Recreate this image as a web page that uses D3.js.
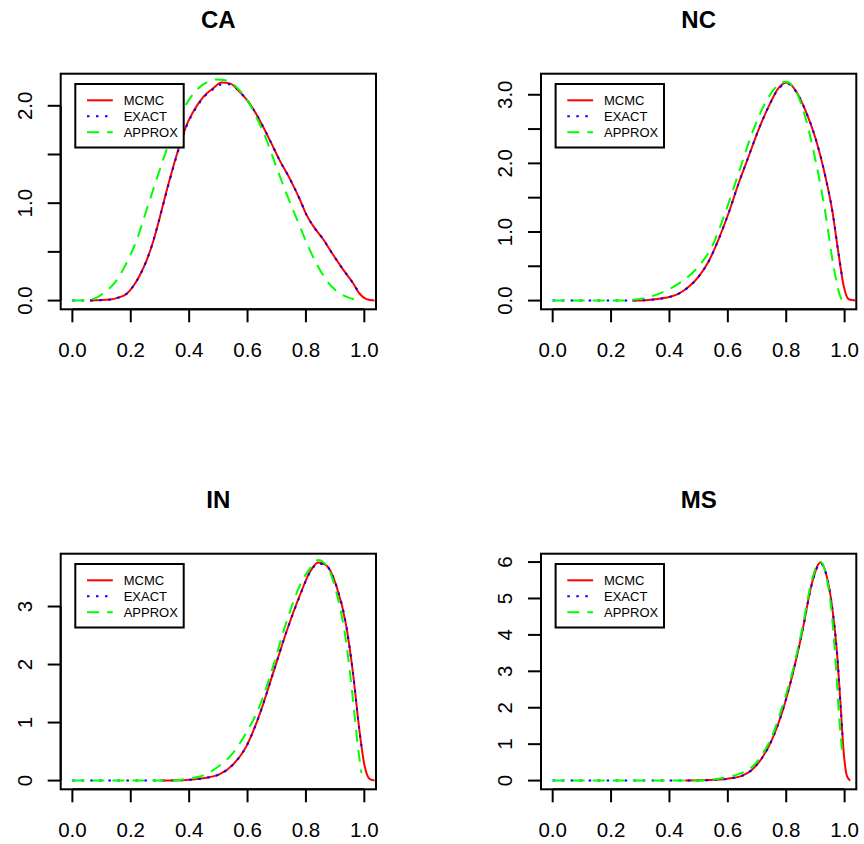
<!DOCTYPE html>
<html>
<head>
<meta charset="utf-8">
<script src="https://cdn.jsdelivr.net/npm/d3@7"></script>
<style>
  body { margin: 0; background: #fff; }
  svg text { font-family: "Liberation Sans", Arial, sans-serif; fill: #000; }
</style>
</head>
<body>
<svg id="chart" width="864" height="844"></svg>
<script>
// ---- data ----
const states = ["CA", "NC", "IN", "MS"];
const seriesNames = ["MCMC", "EXACT", "APPROX"];
const xTicks = [0, 0.2, 0.4, 0.6, 0.8, 1.0];

// CA
const caMcmc = [[0.06,0],[0.13,0.01],[0.157,0.03],[0.186,0.07],[0.209,0.15],[0.231,0.26],[0.254,0.41],[0.277,0.61],[0.3,0.86],[0.323,1.13],[0.345,1.37],[0.368,1.6],[0.391,1.8],[0.42,1.97],[0.448,2.09],[0.482,2.18],[0.511,2.24],[0.539,2.23],[0.574,2.14],[0.608,2.02],[0.642,1.85],[0.676,1.65],[0.71,1.44],[0.745,1.25],[0.779,1.04],[0.802,0.88],[0.824,0.77],[0.859,0.63],[0.893,0.47],[0.927,0.32],[0.961,0.18],[0.984,0.07],[1.007,0.015],[1.035,0]];
const caExact = [[0,0],[0.06,0],[0.13,0.01],[0.157,0.03],[0.186,0.07],[0.209,0.15],[0.231,0.26],[0.254,0.41],[0.277,0.61],[0.3,0.86],[0.323,1.12],[0.345,1.36],[0.368,1.59],[0.391,1.79],[0.42,1.96],[0.448,2.08],[0.482,2.17],[0.511,2.22],[0.539,2.22],[0.574,2.14],[0.608,2.02],[0.642,1.85],[0.676,1.65],[0.71,1.44],[0.745,1.25],[0.779,1.04],[0.802,0.88],[0.824,0.77],[0.859,0.63],[0.893,0.47],[0.927,0.32],[0.961,0.18],[0.984,0.07]];
const caApprox = [[0,0],[0.049,0.003],[0.083,0.03],[0.117,0.1],[0.152,0.21],[0.186,0.39],[0.22,0.62],[0.254,0.93],[0.288,1.24],[0.323,1.55],[0.357,1.8],[0.391,2.02],[0.425,2.16],[0.46,2.24],[0.494,2.27],[0.528,2.26],[0.562,2.19],[0.596,2.07],[0.631,1.88],[0.665,1.65],[0.699,1.37],[0.733,1.1],[0.767,0.85],[0.8,0.61],[0.836,0.38],[0.87,0.21],[0.9,0.11],[0.938,0.04],[0.978,0.005],[0.99,0]];

// NC
const ncMcmc = [[0.272,0],[0.329,0.01],[0.386,0.04],[0.432,0.1],[0.466,0.2],[0.5,0.35],[0.534,0.57],[0.568,0.89],[0.603,1.28],[0.637,1.71],[0.671,2.1],[0.705,2.49],[0.74,2.83],[0.774,3.1],[0.803,3.18],[0.831,3.07],[0.865,2.78],[0.9,2.37],[0.934,1.81],[0.957,1.33],[0.979,0.69],[0.997,0.21],[1.014,0.02],[1.037,0]];
const ncExact = [[0,0],[0.272,0],[0.329,0.01],[0.386,0.04],[0.432,0.1],[0.466,0.2],[0.5,0.35],[0.534,0.57],[0.568,0.89],[0.603,1.28],[0.637,1.71],[0.671,2.1],[0.705,2.49],[0.74,2.83],[0.774,3.09],[0.803,3.16],[0.831,3.06],[0.865,2.78],[0.9,2.37],[0.934,1.81],[0.957,1.33],[0.979,0.69],[0.993,0.3]];
const ncApprox = [[0,0],[0.25,0],[0.272,0.01],[0.329,0.05],[0.386,0.14],[0.443,0.28],[0.5,0.5],[0.546,0.79],[0.591,1.28],[0.637,1.86],[0.683,2.44],[0.728,2.88],[0.774,3.15],[0.799,3.19],[0.831,3.07],[0.865,2.68],[0.9,2.05],[0.934,1.28],[0.962,0.5],[0.985,0.06],[0.993,0]];

// IN
const inMcmc = [[0.3,0],[0.391,0.01],[0.448,0.04],[0.505,0.11],[0.551,0.28],[0.596,0.59],[0.642,1.15],[0.688,1.86],[0.733,2.56],[0.779,3.19],[0.813,3.59],[0.842,3.76],[0.87,3.71],[0.904,3.36],[0.938,2.67],[0.961,1.86],[0.984,0.83],[1.001,0.25],[1.018,0.03],[1.035,0]];
const inExact = [[0,0],[0.3,0],[0.391,0.01],[0.448,0.04],[0.505,0.11],[0.551,0.28],[0.596,0.59],[0.642,1.15],[0.688,1.86],[0.733,2.56],[0.779,3.18],[0.813,3.58],[0.842,3.74],[0.87,3.7],[0.904,3.36],[0.938,2.67],[0.961,1.86],[0.984,0.83],[0.993,0.5]];
const inApprox = [[0,0],[0.35,0],[0.391,0.03],[0.437,0.07],[0.494,0.22],[0.551,0.48],[0.596,0.83],[0.642,1.29],[0.688,1.98],[0.733,2.73],[0.779,3.36],[0.813,3.65],[0.842,3.8],[0.87,3.71],[0.904,3.25],[0.938,2.38],[0.961,1.4],[0.978,0.59],[0.99,0.13]];

// MS
const msMcmc = [[0.454,0],[0.557,0.02],[0.614,0.07],[0.648,0.13],[0.683,0.3],[0.717,0.62],[0.751,1.12],[0.785,1.85],[0.82,2.86],[0.854,4.05],[0.888,5.42],[0.917,5.99],[0.939,5.6],[0.957,4.78],[0.974,3.5],[0.985,2.22],[0.997,0.76],[1.008,0.12],[1.019,0]];
const msExact = [[0,0],[0.454,0],[0.557,0.02],[0.614,0.07],[0.648,0.13],[0.683,0.3],[0.717,0.62],[0.751,1.12],[0.785,1.85],[0.82,2.86],[0.854,4.05],[0.888,5.4],[0.917,5.97],[0.939,5.6],[0.957,4.78],[0.974,3.5],[0.985,2.22],[0.993,1.2]];
const msApprox = [[0,0],[0.5,0],[0.557,0.04],[0.614,0.12],[0.648,0.21],[0.683,0.37],[0.717,0.71],[0.751,1.21],[0.785,1.99],[0.82,2.95],[0.854,4.14],[0.888,5.51],[0.917,6.01],[0.939,5.55],[0.957,4.5],[0.971,3.04],[0.982,1.67],[0.991,0.85]];

const yTicksByState = {CA: [0, 0.5, 1, 1.5, 2], NC: [0, 0.5, 1, 1.5, 2, 2.5, 3], IN: [0, 1, 2, 3], MS: [0, 1, 2, 3, 4, 5, 6]};
const yLabelsByState = {CA: [0, 1, 2], NC: [0, 1, 2, 3], IN: [0, 1, 2, 3], MS: [0, 1, 2, 3, 4, 5, 6]};
const yFormatByState = {CA: ".1f", NC: ".1f", IN: "d", MS: "d"};

const curvesByState = {
  CA: [caMcmc, caExact, caApprox],
  NC: [ncMcmc, ncExact, ncApprox],
  IN: [inMcmc, inExact, inApprox],
  MS: [msMcmc, msExact, msApprox]
};

// ---- layout ----
const svg = d3.select("#chart");
const panelLeft = [60.7, 541];
const panelTop = [73.7, 553.7];
const plotW = 315.3, plotH = 235.6;
const tickLen = 13;
const fontSize = 20.5;
const styles = [
  {color: "#ff0000", dash: null},
  {color: "#0000ff", dash: "2.5,6.5"},
  {color: "#00ff00", dash: "12,8"}
];

states.forEach((st, i) => {
  const left = panelLeft[i % 2];
  const top = panelTop[Math.floor(i / 2)];
  const g = svg.append("g").attr("transform", `translate(${left},${top})`);

  const x = d3.scaleLinear().domain([-0.04, 1.04]).range([0, plotW]);
  const ymax = d3.max(curvesByState[st][0], d => d[1]);
  const y = d3.scaleLinear().domain([-0.04 * ymax, 1.04 * ymax]).range([plotH, 0]);

  // curves, clipped to plot region
  const clipId = "clip" + st;
  g.append("clipPath").attr("id", clipId)
    .append("rect").attr("width", plotW).attr("height", plotH);

  const line = d3.line().x(d => x(d[0])).y(d => y(d[1])).curve(d3.curveMonotoneX);
  curvesByState[st].forEach((pts, k) => {
    g.append("path")
      .attr("clip-path", `url(#${clipId})`)
      .attr("d", line(pts))
      .attr("fill", "none")
      .attr("stroke", styles[k].color)
      .attr("stroke-width", 2)
      .attr("stroke-dasharray", styles[k].dash);
  });

  // box
  g.append("rect").attr("width", plotW).attr("height", plotH)
    .attr("fill", "none").attr("stroke", "#000").attr("stroke-width", 2);

  // x axis
  const xa = g.append("g").attr("transform", `translate(0,${plotH})`);
  xa.append("line").attr("x1", x(xTicks[0])).attr("x2", x(xTicks[xTicks.length - 1]))
    .attr("stroke", "#000").attr("stroke-width", 2);
  xTicks.forEach(t => {
    xa.append("line").attr("x1", x(t)).attr("x2", x(t)).attr("y1", 0).attr("y2", tickLen)
      .attr("stroke", "#000").attr("stroke-width", 2);
    xa.append("text").attr("x", x(t)).attr("y", 48).attr("text-anchor", "middle")
      .attr("font-size", fontSize).text(d3.format(".1f")(t));
  });

  // y axis
  const yt = yTicksByState[st];
  const ya = g.append("g");
  ya.append("line").attr("y1", y(yt[0])).attr("y2", y(yt[yt.length - 1]))
    .attr("stroke", "#000").attr("stroke-width", 2);
  yt.forEach(t => {
    ya.append("line").attr("x1", -tickLen).attr("x2", 0).attr("y1", y(t)).attr("y2", y(t))
      .attr("stroke", "#000").attr("stroke-width", 2);
  });
  yLabelsByState[st].forEach(t => {
    ya.append("text")
      .attr("transform", `translate(-29,${y(t)}) rotate(-90)`)
      .attr("text-anchor", "middle").attr("font-size", fontSize)
      .text(d3.format(yFormatByState[st])(t));
  });

  // title
  g.append("text").attr("x", plotW / 2).attr("y", -45.5).attr("text-anchor", "middle")
    .attr("font-size", 24).attr("font-weight", "bold").text(st);

  // legend
  const lg = g.append("g").attr("transform", "translate(14.6,10.3)");
  lg.append("rect").attr("width", 108.4).attr("height", 63.5)
    .attr("fill", "#fff").attr("stroke", "#000").attr("stroke-width", 2);
  seriesNames.forEach((name, k) => {
    const ly = 16.3 + k * 16;
    lg.append("line").attr("x1", 11.7).attr("x2", 37.5).attr("y1", ly).attr("y2", ly)
      .attr("stroke", styles[k].color).attr("stroke-width", 2)
      .attr("stroke-dasharray", styles[k].dash);
    lg.append("text").attr("x", 48.4).attr("y", ly + 4.7).attr("font-size", 13).text(name);
  });
});
</script>
</body>
</html>
